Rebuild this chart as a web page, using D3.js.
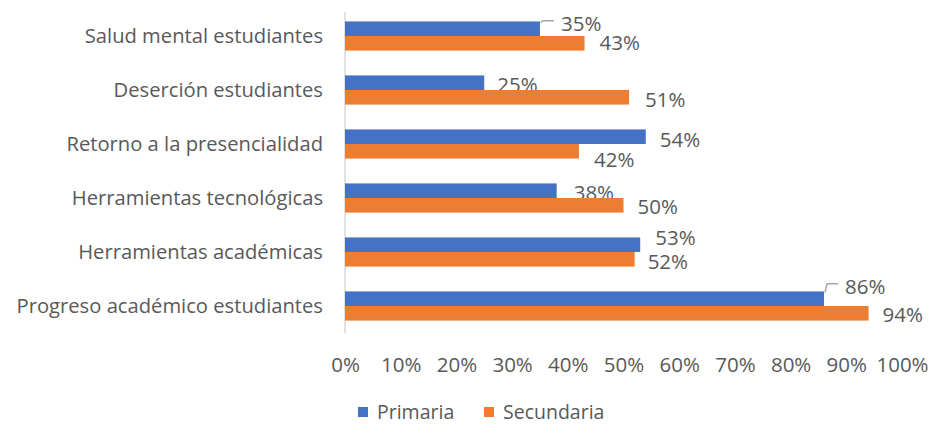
<!DOCTYPE html>
<html><head><meta charset="utf-8">
<script src="https://cdn.jsdelivr.net/npm/d3@7"></script>
<style>body{margin:0;background:#fff;} text{font-family:"Open Sans",sans-serif;}</style>
</head><body><svg id="c" width="932" height="426"></svg>
<script>
const categories = ["Salud mental estudiantes","Deserción estudiantes","Retorno a la presencialidad","Herramientas tecnológicas","Herramientas académicas","Progreso académico estudiantes"];
const primaria = [0.35,0.25,0.54,0.38,0.53,0.86];
const secundaria = [0.43,0.51,0.42,0.50,0.52,0.94];
const seriesNames = ["Primaria","Secundaria"];
const xTicks = [0,0.1,0.2,0.3,0.4,0.5,0.6,0.7,0.8,0.9,1.0];
// label nudges (layout only): [dx, dy, leader]
const primLabelNudge = [[21,-5,true],[13,2,false],[14,3,false],[17,2,false],[15,-7,false],[21,-12,true]];
const secLabelNudge = [[15,0,false],[16,3,false],[15,9,false],[14,2,false],[13,3,false],[14,2,false]];

const colors = ["#4472C4","#ED7D31"];
const svg = d3.select("#c");
const x = d3.scaleLinear().domain([0,1]).range([345,902]);
const y = d3.scaleBand().domain(categories).range([9,333]).paddingInner(0.46).paddingOuter(0.23);
const sub = d3.scaleBand().domain(seriesNames).range([0,y.bandwidth()]);
const fmt = d3.format(".0%");
const textColor = "#595959";

svg.append("line").attr("x1",x(0)).attr("x2",x(0)).attr("y1",12).attr("y2",333)
  .attr("stroke","#D9D9D9").attr("stroke-width",1.5);

const data = [primaria, secundaria];
const nudges = [primLabelNudge, secLabelNudge];
seriesNames.forEach((s,si)=>{
  svg.append("g").selectAll("rect").data(categories).join("rect")
    .attr("x",x(0)).attr("y",(c)=>y(c)+sub(s))
    .attr("width",(c,i)=>x(data[si][i])-x(0)).attr("height",sub.bandwidth())
    .attr("fill",colors[si]);
  svg.append("g").selectAll("text").data(categories).join("text")
    .attr("x",(c,i)=>x(data[si][i])+nudges[si][i][0])
    .attr("y",(c,i)=>y(c)+sub(s)+sub.bandwidth()/2+nudges[si][i][1])
    .attr("dy","0.35em").attr("font-size",20.5).attr("fill",textColor)
    .text((c,i)=>fmt(data[si][i]));
  categories.forEach((c,i)=>{
    const n = nudges[si][i];
    if(!n[2]) return;
    const bx = x(data[si][i]);
    const by = y(c)+sub(s);
    const ty = by+sub.bandwidth()/2+n[1];
    svg.append("path").attr("d",`M${bx+1},${by+1}L${bx+3},${ty-3}L${bx+n[0]-7},${ty-3}`)
      .attr("fill","none").attr("stroke","#A6A6A6").attr("stroke-width",1.5);
  });
});

svg.append("g").selectAll("text").data(categories).join("text")
  .attr("x",323).attr("y",c=>y(c)+y.bandwidth()/2).attr("dy","0.35em")
  .attr("text-anchor","end").attr("font-size",20.2).attr("fill",textColor).text(c=>c);

const xAxis = d3.axisBottom(x).tickValues(xTicks).tickFormat(fmt).tickSize(0).tickPadding(0);
const gx = svg.append("g").attr("transform","translate(0,365)").call(xAxis);
gx.select(".domain").remove();
gx.selectAll("text").attr("font-size",20.5).attr("fill",textColor).attr("font-family","'Open Sans',sans-serif")
  .attr("y",0).attr("dy","0.35em");

const leg = [{n:"Primaria",x:358},{n:"Secundaria",x:484}];
leg.forEach((l,i)=>{
  svg.append("rect").attr("x",l.x).attr("y",407).attr("width",10).attr("height",10).attr("fill",colors[i]);
  svg.append("text").attr("x",l.x+19).attr("y",412).attr("dy","0.35em").attr("font-size",19.5).attr("fill",textColor).text(l.n);
});
</script></body></html>
